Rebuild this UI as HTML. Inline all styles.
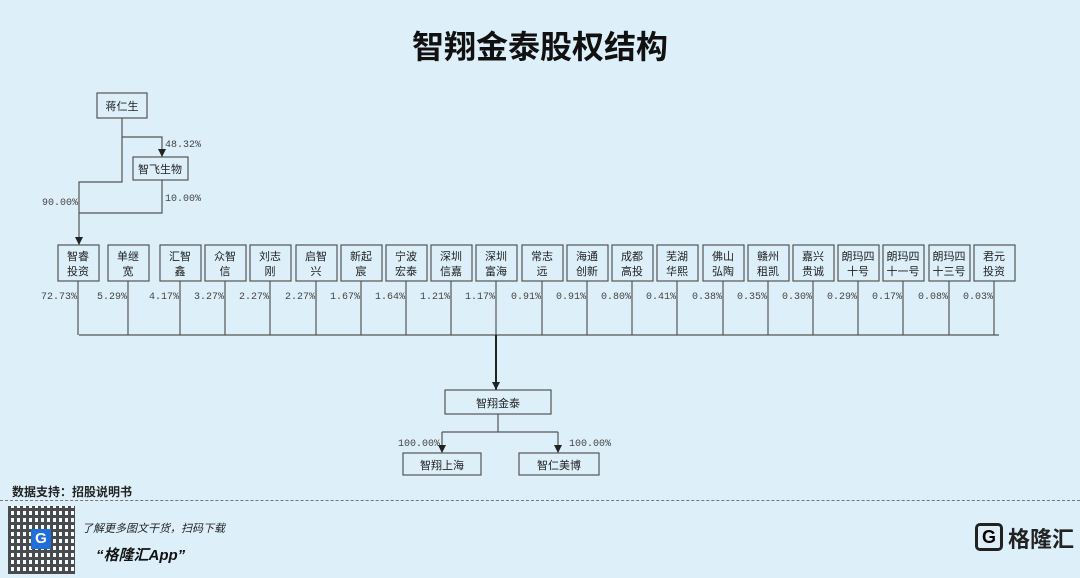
<!DOCTYPE html><html><head><meta charset="utf-8"><style>
body{margin:0;width:1080px;height:578px;background:#ddf0fa;font-family:"Liberation Sans","Noto Sans CJK SC",sans-serif;position:relative;overflow:hidden}
.t{position:absolute;white-space:nowrap}
</style></head><body>
<div class="t" style="left:0;width:1080px;text-align:center;top:22px;font-size:32px;font-weight:bold;color:#111">智翔金泰股权结构</div>
<svg width="1080" height="578" style="position:absolute;left:0;top:0" font-family="Liberation Mono,Noto Sans CJK SC,monospace">
<defs><marker id="a" markerWidth="9" markerHeight="9" refX="8" refY="4" orient="auto" markerUnits="userSpaceOnUse"><path d="M0,0L8,4L0,8z" fill="#222"/></marker></defs>
<g stroke="#555" fill="none" stroke-width="1.2">
<rect x="97" y="93" width="50" height="25" fill="#ddf0fa"/>
<rect x="133" y="157" width="55" height="23" fill="#ddf0fa"/>
<path d="M122,118V137H162V157" marker-end="url(#a)"/>
<path d="M122,137V182H79V245" marker-end="url(#a)"/>
<path d="M162,180V213H79"/>
<path d="M79,335H999"/>
<path d="M496,335V390" stroke="#222" stroke-width="2" marker-end="url(#a)"/>
<rect x="445" y="390" width="106" height="24" fill="#ddf0fa"/>
<path d="M498,414V432M442,432H558"/>
<path d="M442,432V453" marker-end="url(#a)"/><path d="M558,432V453" marker-end="url(#a)"/>
<rect x="403" y="453" width="78" height="22" fill="#ddf0fa"/>
<rect x="519" y="453" width="80" height="22" fill="#ddf0fa"/>
</g>
<g font-size="10" fill="#444">
<text x="165" y="147">48.32%</text><text x="165" y="201">10.00%</text><text x="42" y="205">90.00%</text>
<text x="398" y="446">100.00%</text><text x="569" y="446">100.00%</text>
</g>
<g font-size="11" fill="#222" text-anchor="middle">
<text x="122" y="110">蒋仁生</text><text x="160" y="173">智飞生物</text>
<text x="498" y="407">智翔金泰</text><text x="442" y="469">智翔上海</text><text x="559" y="469">智仁美博</text>
</g>
<g id="boxes"></g>
</svg>
<script>
var d=[[58,"智睿","投资","72.73%"],[108,"单继","宽","5.29%"],[160,"汇智","鑫","4.17%"],[205,"众智","信","3.27%"],[250,"刘志","刚","2.27%"],[296,"启智","兴","2.27%"],[341,"新起","宸","1.67%"],[386,"宁波","宏泰","1.64%"],[431,"深圳","信嘉","1.21%"],[476,"深圳","富海","1.17%"],[522,"常志","远","0.91%"],[567,"海通","创新","0.91%"],[612,"成都","高投","0.80%"],[657,"芜湖","华熙","0.41%"],[703,"佛山","弘陶","0.38%"],[748,"赣州","租凯","0.35%"],[793,"嘉兴","贵诚","0.30%"],[838,"朗玛四","十号","0.29%"],[883,"朗玛四","十一号","0.17%"],[929,"朗玛四","十三号","0.08%"],[974,"君元","投资","0.03%"]];
var s="";d.forEach(function(b){var x=b[0],c=x+20;
s+='<rect x="'+x+'" y="245" width="41" height="36" fill="#ddf0fa" stroke="#555" stroke-width="1.2"/>';
s+='<path d="M'+c+',281V335" stroke="#555" stroke-width="1.2"/>';
s+='<text x="'+c+'" y="260" font-size="11" fill="#222" text-anchor="middle">'+b[1]+'</text>';
s+='<text x="'+c+'" y="275" font-size="11" fill="#222" text-anchor="middle">'+b[2]+'</text>';
s+='<text x="'+(c-1)+'" y="299" font-size="10" fill="#444" text-anchor="end">'+b[3]+'</text>';});
document.getElementById("boxes").innerHTML=s;
</script>
<div class="t" style="left:12px;top:483px;font-size:12px;font-weight:bold;color:#222">数据支持：招股说明书</div>
<div style="position:absolute;left:0;top:500px;width:1080px;border-top:1px dashed #777"></div>
<div style="position:absolute;left:8px;top:506px;width:67px;height:68px;background:#fff;background-image:repeating-linear-gradient(90deg,#222 0 3px,transparent 3px 6px),repeating-linear-gradient(0deg,#222 0 3px,#fff 3px 7px);opacity:.8"></div>
<div style="position:absolute;left:31px;top:529px;width:20px;height:20px;background:#1e6fd9;color:#fff;font-weight:bold;text-align:center;font-size:15px;line-height:20px">G</div>
<div class="t" style="left:82px;top:520px;font-size:11px;font-style:italic;color:#222">了解更多图文干货，扫码下载</div>
<div class="t" style="left:96px;top:544px;font-size:15px;font-style:italic;font-weight:bold;color:#111">“格隆汇App”</div>
<div style="position:absolute;left:975px;top:523px;width:28px;height:28px;border:3px solid #222;border-radius:5px;box-sizing:border-box;font-weight:bold;text-align:center;line-height:22px;font-size:18px">G</div>
<div class="t" style="left:1008px;top:522px;font-size:22px;font-weight:bold;color:#222">格隆汇</div>
</body></html>
